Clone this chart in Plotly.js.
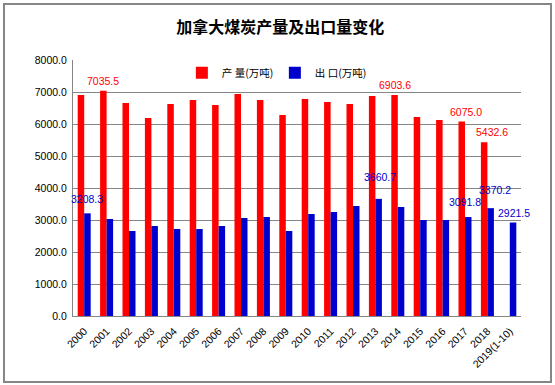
<!DOCTYPE html>
<html>
<head>
<meta charset="utf-8">
<script src="https://cdn.plot.ly/plotly-3.0.1.min.js"></script>
<style>
html,body{margin:0;padding:0;background:#fff;}
#wrap{position:relative;width:555px;height:385px;}
#chart{width:555px;height:385px;}
#frame{position:absolute;left:3px;top:3px;width:545px;height:376px;border:2px solid #868686;pointer-events:none;}
</style>
</head>
<body>
<div id="wrap"><div id="chart"></div><div id="frame"></div></div>
<script>
var years = ["2000","2001","2002","2003","2004","2005","2006","2007","2008","2009",
             "2010","2011","2012","2013","2014","2015","2016","2017","2018","2019(1-10)"];
var production = [6906, 7035.5, 6656, 6187, 6625, 6750, 6594, 6937, 6750, 6281,
                  6781, 6687, 6625, 6875, 6903.6, 6219, 6125, 6075.0, 5432.6, null];
var exports = [3208.3, 3031, 2656, 2812, 2719, 2719, 2812, 3062, 3094, 2656,
               3187, 3250, 3437, 3660.7, 3406, 3000, 3000, 3091.8, 3370.2, 2921.5];
var yTicks = [0, 1000, 2000, 3000, 4000, 5000, 6000, 7000, 8000];
var prodLabelYears = ["2001", "2014", "2017", "2018"];
var expLabelYears = ["2000", "2013", "2017", "2018", "2019(1-10)"];

// label placement (styling only)
var prodNudge = {"2001": [0, 10], "2014": [0, 10], "2017": [4, 10], "2018": [8, 10]};
var expNudge = {"2000": [0, 14], "2013": [1, 22], "2017": [-3, 15], "2018": [4, 18], "2019(1-10)": [1, 10]};

var idx = years.map(function (_, i) { return i; });
var numFont = 'Liberation Sans, Arial, sans-serif';

var annotations = [];
prodLabelYears.forEach(function (y) {
  var i = years.indexOf(y);
  annotations.push({x: i, y: production[i], xref: 'x', yref: 'y', text: production[i].toFixed(1),
    showarrow: false, xshift: -3.2 + prodNudge[y][0], yshift: prodNudge[y][1], yanchor: 'middle',
    font: {family: numFont, size: 10.5, color: '#ff0000'}});
});
expLabelYears.forEach(function (y) {
  var i = years.indexOf(y);
  annotations.push({x: i, y: exports[i], xref: 'x', yref: 'y', text: exports[i].toFixed(1),
    showarrow: false, xshift: 3.2 + expNudge[y][0], yshift: expNudge[y][1], yanchor: 'middle',
    font: {family: numFont, size: 10.5, color: '#0000cc'}});
});

var data = [
  {type: 'bar', name: '产 量(万吨)', x: idx, y: production, marker: {color: '#ff0000'}, hoverinfo: 'none'},
  {type: 'bar', name: '出 口(万吨)', x: idx, y: exports, marker: {color: '#0000cc'}, hoverinfo: 'none'}
];

var layout = {
  width: 555, height: 385,
  margin: {l: 73, r: 34, t: 60, b: 69, pad: 0},
  paper_bgcolor: '#ffffff', plot_bgcolor: '#ffffff',
  font: {family: numFont, size: 10, color: '#000'},
  title: {text: '<b>加拿大煤炭产量及出口量变化</b>', x: 0.505, xanchor: 'center', y: 0.928, yanchor: 'middle',
          font: {family: '"Noto Sans CJK SC", sans-serif', size: 16, color: '#000'}},
  barmode: 'group', bargap: 0.42, bargroupgap: 0,
  showlegend: true,
  legend: {orientation: 'h', x: 0.243, xanchor: 'left', y: 0.95, yanchor: 'middle',
           font: {family: '"Noto Sans CJK SC", sans-serif', size: 10.5, color: '#000'},
           bgcolor: 'rgba(0,0,0,0)', itemwidth: 30, traceorder: 'normal', entrywidth: 48},
  xaxis: {range: [-0.5, 19.5], tickvals: idx, ticktext: years, tickangle: -45,
          showline: true, linecolor: '#868686', linewidth: 1,
          ticks: '', showgrid: false, zeroline: false, ticklabelstandoff: 4,
          tickfont: {family: numFont, size: 10.5, color: '#000'},
          automargin: false, fixedrange: true},
  yaxis: {range: [0, 8000], tickvals: yTicks, ticktext: yTicks.map(function (v) { return v.toFixed(1); }),
          showgrid: true, gridcolor: '#868686', gridwidth: 1, showline: true, linecolor: '#868686',
          linewidth: 1, ticks: '', zeroline: false, ticklabelstandoff: 3,
          tickfont: {family: numFont, size: 10.5, color: '#000'}, automargin: false, fixedrange: true},
  annotations: annotations
};

Plotly.newPlot('chart', data, layout, {displayModeBar: false, staticPlot: true});
</script>
</body>
</html>
